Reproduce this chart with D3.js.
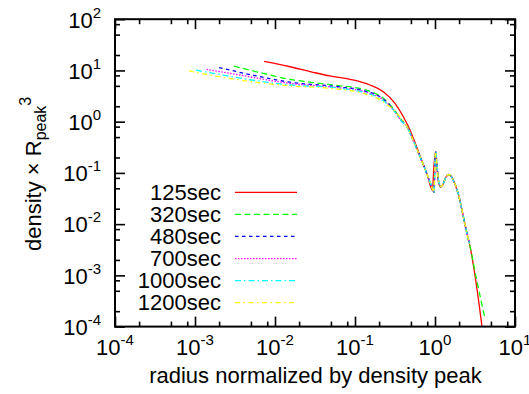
<!DOCTYPE html>
<html>
<head>
<meta charset="utf-8">
<script src="https://cdn.jsdelivr.net/npm/d3@7"></script>
<style>
  body { margin: 0; background: #fff; }
  svg text { font-family: "Liberation Sans", Arial, sans-serif; fill: #000; }
</style>
</head>
<body>
<svg id="chart" width="529" height="394"></svg>
<script>
// tick values
var xMajor = [1e-4, 1e-3, 1e-2, 1e-1, 1, 10];
var yMajor = [1e-4, 1e-3, 1e-2, 1e-1, 1, 10, 100];
var minorSteps = [2, 5, 8];
var xExp = ["-4", "-3", "-2", "-1", "0", "1"];
var yExp = ["-4", "-3", "-2", "-1", "0", "1", "2"];

// series: [radius, density]
var tail = [[0.45,0.78],[0.512,0.50],[0.60,0.28],[0.682,0.172],[0.80,0.092],[0.90,0.056],[0.975,0.042],
  [0.995,0.13],[1.02,0.26],[1.06,0.14],[1.11,0.07],[1.18,0.054],[1.26,0.06],[1.36,0.08],[1.48,0.093],
  [1.6,0.085],[1.75,0.064],[1.98,0.036],[2.26,0.014],[2.53,0.0062],[2.7,0.0041]];

var s125 = [[0.0073,15.0],[0.0154,11.8],[0.030,9.2],[0.0487,7.8],[0.0866,6.7],[0.154,5.2],[0.226,3.85],
  [0.316,2.28],[0.402,1.25],[0.487,0.69],[0.60,0.30],[0.682,0.176],[0.80,0.092],[0.93,0.046],[0.965,0.12],
  [1.01,0.25],[1.05,0.14],[1.10,0.068],[1.17,0.053],[1.25,0.058],[1.35,0.08],[1.48,0.092],[1.6,0.085],
  [1.75,0.064],[1.98,0.036],[2.26,0.014],[2.53,0.0062],[2.7,0.0041],[3.23,0.0008],[3.9,0.00009]];
var s320 = [[0.00305,12.1],[0.0059,9.4],[0.0154,6.7],[0.030,5.8],[0.0618,5.05],[0.127,4.28],[0.226,2.85],
  [0.299,1.82],[0.384,1.07]].concat(tail, [[3.3,0.00085],[4.15,0.00016]]);
var s480 = [[0.002,11.4],[0.0059,7.8],[0.0154,5.9],[0.0618,4.8],[0.127,4.05],[0.226,2.75],[0.30,1.76],
  [0.384,1.04]].concat(tail);
var s700 = [[0.00139,10.5],[0.00365,8.1],[0.0154,5.6],[0.0618,4.6],[0.127,3.9],[0.226,2.65],[0.30,1.72],
  [0.384,1.02]].concat(tail);
var s1000 = [[0.00103,10.1],[0.00226,8.1],[0.0059,6.3],[0.0154,5.2],[0.0618,4.55],[0.127,3.75],[0.226,2.55],
  [0.30,1.7],[0.384,1.0]].concat(tail);
var s1200 = [[0.00084,9.8],[0.00226,7.3],[0.0059,5.85],[0.0154,5.0],[0.0487,4.47],[0.127,3.57],[0.226,2.45],
  [0.332,1.45]].concat(tail);

var names = ["125sec", "320sec", "480sec", "700sec", "1000sec", "1200sec"];
var colors = ["#ff0000", "#00ff00", "#0000ff", "#ff00ff", "#00ffff", "#ffff00"];
var dashes = ["none", "6,3.5", "3.5,3.5", "1.5,1.5", "6,3,1.5,3", "5,3.5,1.5,3.5"];
var series = [s125, s320, s480, s700, s1000, s1200];

var pLeft = 115, pRight = 515, pTop = 19.2, pBottom = 326.6;
var svg = d3.select("#chart");

var x = d3.scaleLog().domain([1e-4, 10]).range([pLeft, pRight]);
var y = d3.scaleLog().domain([1e-4, 100]).range([pBottom, pTop]);

function minors(majors) {
  var out = [];
  majors.slice(0, -1).forEach(function(m) {
    minorSteps.forEach(function(s) { out.push(m * s); });
  });
  return out;
}

svg.append("clipPath").attr("id", "clip")
  .append("rect").attr("x", pLeft).attr("y", pTop)
  .attr("width", pRight - pLeft).attr("height", pBottom - pTop);

// ticks on all four sides
function tickAxis(axis, vals, size, tr) {
  var g = svg.append("g").attr("transform", tr)
    .call(axis.tickValues(vals).tickSize(size).tickFormat("").tickSizeOuter(0));
  g.select(".domain").remove();
  g.selectAll("line").attr("stroke", "#000").attr("stroke-width", 1.6);
}
tickAxis(d3.axisBottom(x), xMajor, -10, "translate(0," + pBottom + ")");
tickAxis(d3.axisBottom(x), minors(xMajor), -5, "translate(0," + pBottom + ")");
tickAxis(d3.axisTop(x), xMajor, -10, "translate(0," + pTop + ")");
tickAxis(d3.axisTop(x), minors(xMajor), -5, "translate(0," + pTop + ")");
tickAxis(d3.axisLeft(y), yMajor, -10, "translate(" + pLeft + ",0)");
tickAxis(d3.axisLeft(y), minors(yMajor), -5, "translate(" + pLeft + ",0)");
tickAxis(d3.axisRight(y), yMajor, -10, "translate(" + pRight + ",0)");
tickAxis(d3.axisRight(y), minors(yMajor), -5, "translate(" + pRight + ",0)");

// curves
var line = d3.line()
  .x(function(d) { return x(d[0]); })
  .y(function(d) { return y(d[1]); })
  .curve(d3.curveMonotoneX);

svg.append("g").attr("clip-path", "url(#clip)")
  .selectAll("path").data(series).enter().append("path")
  .attr("d", line)
  .attr("fill", "none")
  .attr("stroke", function(d, i) { return colors[i]; })
  .attr("stroke-width", 1.3)
  .attr("stroke-dasharray", function(d, i) { return dashes[i]; });

// frame
svg.append("rect").attr("x", pLeft).attr("y", pTop)
  .attr("width", pRight - pLeft).attr("height", pBottom - pTop)
  .attr("fill", "none").attr("stroke", "#000").attr("stroke-width", 2);

// tick labels
var xl = svg.append("g").selectAll("text").data(xMajor).enter().append("text")
  .attr("x", function(d) { return x(d); })
  .attr("y", pBottom + 28.5)
  .attr("text-anchor", "middle")
  .style("font-size", "22px");
xl.append("tspan").text("10");
xl.append("tspan").attr("dy", -10).style("font-size", "15px").text(function(d, i) { return xExp[i]; });

var yl = svg.append("g").selectAll("text").data(yMajor).enter().append("text")
  .attr("x", 101)
  .attr("y", function(d) { return y(d) + 8.3; })
  .attr("text-anchor", "end")
  .style("font-size", "22px");
yl.append("tspan").text("10");
yl.append("tspan").attr("dy", -10).style("font-size", "15px").text(function(d, i) { return yExp[i]; });

// axis titles
svg.append("text").attr("x", 315.5).attr("y", 382.7)
  .attr("text-anchor", "middle").style("font-size", "22px")
  .text("radius normalized by density peak");

var yt = svg.append("text")
  .attr("transform", "translate(41,251) rotate(-90)")
  .attr("text-anchor", "start").style("font-size", "22px");
yt.append("tspan").text("density \u00d7 R");
yt.append("tspan").attr("dy", 5).style("font-size", "16px").text("peak");
yt.append("tspan").attr("dy", -15).style("font-size", "16px").text("3");

// legend
var leg = svg.append("g").selectAll("g").data(names).enter().append("g")
  .attr("transform", function(d, i) { return "translate(0," + (192.3 + i * 22.08) + ")"; });
leg.append("text").attr("x", 221).attr("y", 7.7)
  .attr("text-anchor", "end").style("font-size", "22px")
  .text(function(d) { return d; });
leg.append("line").attr("x1", 235).attr("x2", 297)
  .attr("stroke", function(d, i) { return colors[i]; })
  .attr("stroke-width", 1.3)
  .attr("stroke-dasharray", function(d, i) { return dashes[i]; });
</script>
</body>
</html>
